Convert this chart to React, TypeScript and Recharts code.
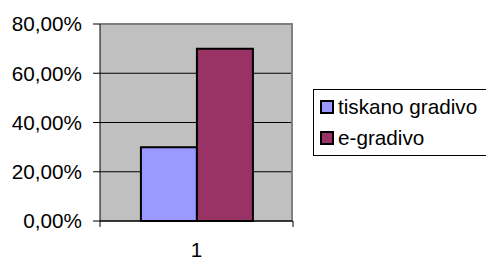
import React from "react";
import {
  BarChart,
  Bar,
  XAxis,
  YAxis,
  CartesianGrid,
  Legend,
  ReferenceLine,
} from "recharts";

const categories = ["1"];
const tiskanoGradivo = [0.3];
const eGradivo = [0.7];
const yTicks = [0, 0.2, 0.4, 0.6, 0.8];
const seriesNames = ["tiskano gradivo", "e-gradivo"];
const seriesKeys = ["tiskano", "egradivo"];

const data = categories.map((c, i) => ({
  name: c,
  tiskano: tiskanoGradivo[i],
  egradivo: eGradivo[i],
}));

const FONT = "'Liberation Sans', Arial, sans-serif";
const FS = 20.7;

const fmt = (v: number) => (v * 100).toFixed(2).replace(".", ",") + "%";

const CategoryTick = (props: any) => {
  const { x, y, payload } = props;
  const off = Number(payload && payload.offset);
  const half = off > 0 ? off : 96.5;
  return (
    <g>
      <line x1={x - half} y1={y} x2={x - half} y2={y + 6} stroke="#000" strokeWidth={1} />
      <line x1={x + half} y1={y} x2={x + half} y2={y + 6} stroke="#000" strokeWidth={1} />
      <text
        x={x}
        y={y + 21.5}
        dy="0.71em"
        textAnchor="middle"
        fill="#000"
        fontSize={FS}
        fontFamily={FONT}
      >
        {payload.value}
      </text>
    </g>
  );
};

const LegendContent = (props: any) => {
  const payload = (props.payload || []).slice();
  payload.sort(
    (a: any, b: any) => seriesKeys.indexOf(a.dataKey) - seriesKeys.indexOf(b.dataKey)
  );
  return (
    <div
      style={{
        position: "relative",
        width: 190,
        height: 67,
        border: "1px solid #000",
        boxSizing: "border-box",
        background: "#fff",
        fontFamily: FONT,
        fontSize: FS,
        color: "#000",
      }}
    >
      {payload.map((p: any, i: number) => (
        <div
          key={i}
          style={{
            position: "absolute",
            left: 6,
            top: 4 + i * 31,
            height: 26,
            display: "flex",
            alignItems: "center",
            whiteSpace: "nowrap",
          }}
        >
          <span
            style={{
              display: "inline-block",
              width: 10,
              height: 10,
              background: p.color,
              border: "2px solid #000",
              marginRight: 4,
            }}
          />
          <span>{p.value}</span>
        </div>
      ))}
    </div>
  );
};

export default function App() {
  return (
    <div style={{ position: "absolute", left: 0, top: 0, background: "#fff" }}>
      <BarChart
        width={486}
        height={259}
        data={data}
        margin={{ top: 24, right: 193, bottom: 0, left: 0 }}
        barCategoryGap="21.2%"
        barGap={0}
      >
        <CartesianGrid
          vertical={false}
          stroke="#000"
          strokeWidth={1}
          fill="#C0C0C0"
          fillOpacity={1}
        />
        <CartesianGrid
          horizontal={false}
          stroke="#808080"
          strokeWidth={2}
          verticalCoordinatesGenerator={({ offset }: any) => [offset.left + offset.width - 1]}
        />
        <XAxis
          dataKey="name"
          height={38}
          axisLine={{ stroke: "#000" }}
          tickLine={false}
          tickSize={0}
          tickMargin={0}
          tick={<CategoryTick />}
        />
        <YAxis
          width={100}
          domain={[0, 0.8]}
          ticks={yTicks}
          tickFormatter={fmt}
          tickSize={7}
          tickMargin={11}
          axisLine={{ stroke: "#000" }}
          tickLine={{ stroke: "#000" }}
          tick={{ fill: "#000", fontSize: FS, fontFamily: FONT }}
        />
        <ReferenceLine y={0.8} stroke="#808080" strokeWidth={2} />
        <Legend
          layout="vertical"
          align="center"
          verticalAlign="middle"
          content={<LegendContent />}
          wrapperStyle={{ left: 313, top: 89, width: 190, height: 67 }}
        />
        <Bar
          dataKey="tiskano"
          name={seriesNames[0]}
          fill="#9999FF"
          stroke="#000"
          strokeWidth={2}
          isAnimationActive={false}
        />
        <Bar
          dataKey="egradivo"
          name={seriesNames[1]}
          fill="#993366"
          stroke="#000"
          strokeWidth={2}
          isAnimationActive={false}
        />
      </BarChart>
    </div>
  );
}
